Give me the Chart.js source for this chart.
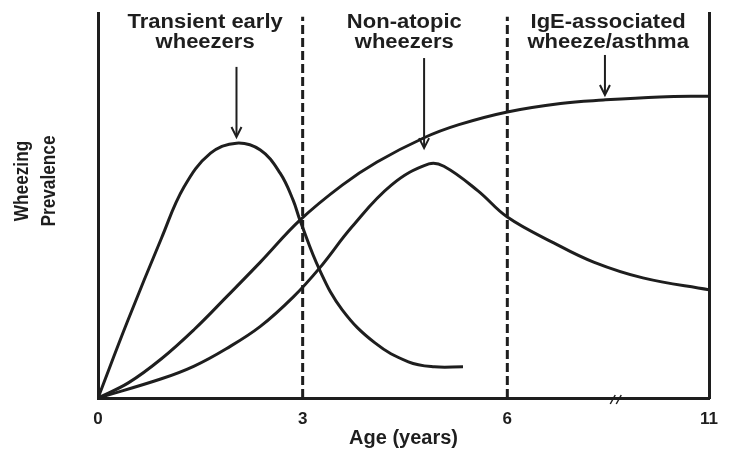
<!DOCTYPE html>
<html><head><meta charset="utf-8">
<script src="https://cdn.jsdelivr.net/npm/chart.js@4"></script>
<style>html,body{margin:0;padding:0;background:#fff}</style>
</head><body>
<canvas id="c" width="729" height="454"></canvas>
<script>
// ---- data (ages in years, prevalence in arbitrary % of axis height) ----
const transientAges   = [0, 0.43, 0.93, 1.26, 1.65, 2.03, 2.38, 2.67, 2.86, 2.96, 3.25, 3.58, 4.06, 4.55, 4.93, 5.35];
const transientValues = [0, 19.8, 41.5, 54.8, 63.6, 66.2, 64.4, 58.4, 51.4, 46.2, 33.2, 22.9, 14.3, 9.4, 8.1, 8.1];

const igeAges   = [0, 0.45, 0.93, 1.41, 1.88, 2.38, 2.96, 3.58, 4.09, 4.78, 5.29, 6.0, 7.32, 8.38, 9.78, 11];
const igeValues = [0, 4.0, 10.2, 17.8, 26.2, 35.3, 46.2, 55.3, 61.3, 67.6, 71.0, 74.3, 76.5, 77.4, 78.2, 78.4];

const nonAtopicAges   = [0, 0.93, 1.41, 1.88, 2.38, 2.86, 3.25, 3.72, 4.30, 4.85, 5.07, 5.57, 6.0, 7.15, 8.14, 9.36, 11];
const nonAtopicValues = [0, 5.0, 8.3, 12.8, 18.6, 26.2, 33.8, 44.4, 55.3, 60.8, 60.2, 53.8, 47.0, 40.3, 35.3, 31.2, 28.1];

const dividerAges = [3, 6];
const dividerTop = 99;

const tickAges = [0, 3, 6, 11];
const tickLabels = ['0', '3', '6', '11'];

const groupLabels = [['Transient early', 'wheezers'], ['Non-atopic', 'wheezers'], ['IgE-associated', 'wheeze/asthma']];
const groupLabelAges = [1.57, 4.49, 8.5];
const arrowAges = [2.03, 4.78, 8.42];
const arrowTopValues = [86.0, 88.3, 89.1];
const arrowTipValues = [67.8, 64.9, 78.7];

const axisBreakAge = 8.7;
const yTitle = ['Wheezing', 'Prevalence'];
const xTitle = 'Age (years)';

// axis is broken after age 6: later years are compressed
const BREAK_AT = 6, COMPRESS = 0.5913;
const toAxis = a => a <= BREAK_AT ? a : BREAK_AT + (a - BREAK_AT) * COMPRESS;
const pts = (xs, ys) => xs.map((a, i) => ({x: toAxis(a), y: ys[i]}));

const INK = '#1e1e1e';
const curve = (label, data) => ({label, data, borderColor: INK, borderWidth: 3, pointRadius: 0,
  tension: 0.4, fill: false});

const datasets = [
  curve('Transient early wheezers', pts(transientAges, transientValues)),
  curve('IgE-associated wheeze/asthma', pts(igeAges, igeValues)),
  curve('Non-atopic wheezers', pts(nonAtopicAges, nonAtopicValues)),
  ...dividerAges.map(a => ({label: 'divider ' + a, data: [{x: toAxis(a), y: 0}, {x: toAxis(a), y: dividerTop}],
    borderColor: INK, borderWidth: 3, borderDash: [9, 4], pointRadius: 0, tension: 0}))
];

const annotations = {
  id: 'annotations',
  afterDatasetsDraw(chart) {
    const {ctx, scales: {x, y}} = chart;
    ctx.save();
    ctx.fillStyle = INK; ctx.strokeStyle = INK;
    // group labels
    ctx.font = 'bold 20px "Liberation Sans", Arial, sans-serif';
    ctx.textAlign = 'center'; ctx.textBaseline = 'alphabetic';
    groupLabels.forEach((lines, i) => {
      const cx = x.getPixelForValue(toAxis(groupLabelAges[i]));
      lines.forEach((t, j) => {
        ctx.save();
        ctx.translate(cx, 28 + j * 20);
        ctx.scale(1.1, 1);
        ctx.fillText(t, 0, 0);
        ctx.restore();
      });
    });
    // arrows
    ctx.lineWidth = 2;
    arrowAges.forEach((a, i) => {
      const px = x.getPixelForValue(toAxis(a));
      const y1 = y.getPixelForValue(arrowTopValues[i]);
      const y2 = y.getPixelForValue(arrowTipValues[i]);
      ctx.beginPath(); ctx.moveTo(px, y1); ctx.lineTo(px, y2 - 1); ctx.stroke();
      ctx.beginPath(); ctx.moveTo(px - 5, y2 - 10); ctx.lineTo(px, y2); ctx.lineTo(px + 5, y2 - 10); ctx.stroke();
    });
    // axis break marks
    const bx = x.getPixelForValue(toAxis(axisBreakAge));
    const by = y.getPixelForValue(0);
    ctx.lineWidth = 1.5;
    [-3, 3].forEach(d => {
      ctx.beginPath(); ctx.moveTo(bx + d - 3, by + 6); ctx.lineTo(bx + d + 2, by - 3); ctx.stroke();
    });
    // y title
    ctx.font = 'bold 21px "Liberation Sans", Arial, sans-serif';
    yTitle.forEach((t, j) => {
      ctx.save();
      ctx.translate(28 + j * 27, 181);
      ctx.rotate(-Math.PI / 2);
      ctx.scale(0.82, 1);
      ctx.textAlign = 'center'; ctx.textBaseline = 'alphabetic';
      ctx.fillText(t, 0, 0);
      ctx.restore();
    });
    ctx.restore();
  }
};

new Chart(document.getElementById('c'), {
  type: 'line',
  data: {datasets},
  options: {
    responsive: false, animation: false, devicePixelRatio: 1,
    layout: {padding: {top: 13, right: 13, left: 0, bottom: 0}},
    plugins: {legend: {display: false}, tooltip: {enabled: false}},
    scales: {
      x: {
        type: 'linear', min: 0, max: toAxis(11),
        grid: {display: false, drawTicks: false},
        border: {display: true, width: 3, color: INK},
        afterBuildTicks: s => { s.ticks = tickAges.map(a => ({value: toAxis(a)})); },
        afterFit: s => { s.height = 56; },
        ticks: {
          padding: 11, color: INK, maxRotation: 0, autoSkip: false,
          font: {family: '"Liberation Sans", Arial, sans-serif', size: 17, weight: 'bold'},
          callback: v => { const i = tickAges.findIndex(a => Math.abs(toAxis(a) - v) < 1e-6); return i >= 0 ? tickLabels[i] : ''; }
        },
        title: {display: true, text: xTitle, color: INK, padding: {top: 0, bottom: 4},
          font: {family: '"Liberation Sans", Arial, sans-serif', size: 20, weight: 'bold'}}
      },
      y: {
        type: 'linear', min: 0, max: 100, position: 'left',
        grid: {display: false, drawTicks: false},
        border: {display: true, width: 3, color: INK},
        ticks: {display: false},
        afterFit: s => { s.width = 98; }
      },
      y2: {
        type: 'linear', min: 0, max: 100, position: 'right',
        grid: {display: false, drawTicks: false},
        border: {display: true, width: 3, color: INK},
        ticks: {display: false},
        afterFit: s => { s.width = 0; }
      }
    }
  },
  plugins: [annotations]
});
</script>
</body></html>
